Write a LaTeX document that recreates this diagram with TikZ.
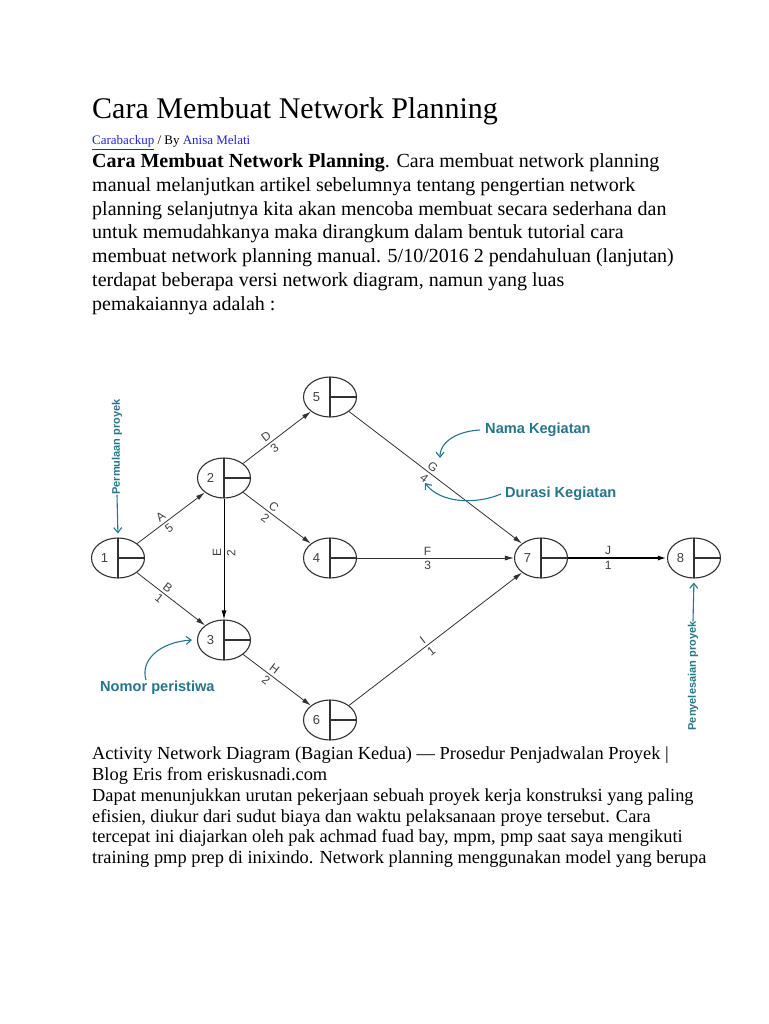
\documentclass[tikz,border=0pt]{standalone}
\usepackage{fontspec}
\setmainfont{Liberation Serif}
\newfontfamily\arialfont{Liberation Sans}
\usetikzlibrary{arrows.meta,shapes.geometric}
\definecolor{annteal}{RGB}{38,118,138}
\definecolor{linkblue}{RGB}{35,35,210}
\definecolor{edgegray}{RGB}{50,50,50}
\definecolor{labgray}{RGB}{65,65,65}
\tikzset{
  body/.style={anchor=base west, inner sep=0pt, font=\fontsize{20}{24}\selectfont, text=black},
  small/.style={anchor=base west, inner sep=0pt, font=\fontsize{18.4}{21}\selectfont, text=black},
  evt/.style={ellipse, draw=edgegray, line width=1.1pt, minimum width=53pt, minimum height=40pt, inner sep=0pt, fill=white,
    path picture={\draw[edgegray, line width=1.1pt] (path picture bounding box.north) -- (path picture bounding box.south);
                  \draw[edgegray, line width=1.1pt] (path picture bounding box.center) -- (path picture bounding box.east);}},
  num/.style={inner sep=0pt, font=\arialfont\fontsize{13}{13}\selectfont, text=labgray},
  edge/.style={draw=edgegray, line width=0.8pt, -{Latex[length=9pt,width=5pt]}},
  lab/.style={inner sep=2.5pt, font=\arialfont\fontsize{12}{12}\selectfont, text=labgray},
  ann/.style={draw=annteal, line width=1.1pt, -{Straight Barb[length=5pt,width=8pt]}},
  anntext/.style={inner sep=0pt, font=\arialfont\bfseries\fontsize{14.6}{15}\selectfont, text=annteal},
  vanntext/.style={inner sep=0pt, font=\arialfont\bfseries\fontsize{11}{12}\selectfont, text=annteal, rotate=90},
}
\begin{document}
\begin{tikzpicture}[x=1pt,y=-1pt]
\useasboundingbox (0,0) rectangle (768,1024);
\fill[white] (0,0) rectangle (768,1024);

% header text
\node[anchor=base west, inner sep=0pt, font=\fontsize{30}{32}\selectfont] (title) at (92,119) {Cara Membuat Network Planning};
\node[anchor=base west, inner sep=0pt, font=\fontsize{13}{15}\selectfont] (byline) at (92,145)
  {\textcolor{linkblue}{\underline{Carabackup}} / By \textcolor{linkblue}{Anisa Melati}};
\node[body] (l1) at (92,168) {\textbf{Cara Membuat Network Planning}. Cara membuat network planning};
\node[body] (l2) at (92,192) {manual melanjutkan artikel sebelumnya tentang pengertian network};
\node[body] (l3) at (92,215) {planning selanjutnya kita akan mencoba membuat secara sederhana dan};
\node[body] (l4) at (92,239) {untuk memudahkanya maka dirangkum dalam bentuk tutorial cara};
\node[body] (l5) at (92,262) {membuat network planning manual. 5/10/2016 2 pendahuluan (lanjutan)};
\node[body] (l6) at (92,286) {terdapat beberapa versi network diagram, namun yang luas};
\node[body] (l7) at (92,310) {pemakaiannya adalah :};

% footer text
\node[small] (f1) at (92,759) {Activity Network Diagram (Bagian Kedua) — Prosedur Penjadwalan Proyek |};
\node[small] (f2) at (92,780) {Blog Eris from eriskusnadi.com};
\node[small] (f3) at (92,801) {Dapat menunjukkan urutan pekerjaan sebuah proyek kerja konstruksi yang paling};
\node[small] (f4) at (92,822) {efisien, diukur dari sudut biaya dan waktu pelaksanaan proye tersebut. Cara};
\node[small] (f5) at (92,842) {tercepat ini diajarkan oleh pak achmad fuad bay, mpm, pmp saat saya mengikuti};
\node[small] (f6) at (92,863) {training pmp prep di inixindo. Network planning menggunakan model yang berupa};

% event nodes
\node[evt] (n1) at (118,558) {};
\node[evt] (n2) at (224,478) {};
\node[evt] (n3) at (224,640) {};
\node[evt] (n4) at (330,558) {};
\node[evt] (n5) at (330,397) {};
\node[evt] (n6) at (330,720) {};
\node[evt] (n7) at (541,558) {};
\node[evt] (n8) at (694,558) {};
\foreach \n in {1,...,8} {\node[num] (t\n) at ([xshift=-13.5pt]n\n.center) {\n};}

% activities
\draw[edge] (n1) -- node[lab, pos=.41, above, rotate=37] {A} node[lab, pos=.41, below, rotate=37] {5} (n2);
\draw[edge] (n2) -- node[lab, pos=.40, above, rotate=37] {D} node[lab, pos=.40, below, rotate=37] {3} (n5);
\draw[edge] (n2) -- node[lab, pos=.39, above, rotate=-37] {C} node[lab, pos=.39, below, rotate=-37] {2} (n4);
\draw[edge] (n1) -- node[lab, pos=.39, above, rotate=-38] {B} node[lab, pos=.39, below, rotate=-38] {1} (n3);
\draw[edge, line width=1pt, draw=black] (n2) -- node[lab, pos=.45, above, rotate=90] {E} node[lab, pos=.45, below, rotate=90] {2} (n3);
\draw[edge] (n3) -- node[lab, pos=.40, above, rotate=-37] {H} node[lab, pos=.40, below, rotate=-37] {2} (n6);
\draw[edge] (n5) -- node[lab, pos=.46, above, rotate=-37.3] {G} node[lab, pos=.46, below, rotate=-37.3] {4} (n7);
\draw[edge] (n4) -- node[lab, pos=.45, above] {F} node[lab, pos=.45, below] {3} (n7);
\draw[edge] (n6) -- node[lab, pos=.45, above, rotate=37.5] {I} node[lab, pos=.45, below, rotate=37.5] {1} (n7);
\draw[edge, line width=1.8pt, draw=black] (n7) -- node[lab, pos=.405, above] {J} node[lab, pos=.405, below] {1} (n8);

% annotations
\node[vanntext] (perm) at (117,447) {Permulaan proyek};
\draw[ann, shorten >=4pt] (perm.west) -- (n1.north);
\node[vanntext] (peny) at (693,676) {Penyelesaian proyek};
\draw[ann, shorten >=4pt] (peny.east) -- (n8.south);
\node[anntext, anchor=west] (nama) at (485,430) {Nama Kegiatan};
\coordinate (gmark) at (440,458);
\draw[ann] ([xshift=-5pt]nama.west) .. controls (460,431) and (440,440) .. (gmark);
\node[anntext, anchor=west] (durasi) at (505,494) {Durasi Kegiatan};
\coordinate (dmark) at (425,483);
\draw[ann] ([xshift=-4pt]durasi.west) .. controls (475,505) and (440,503) .. (dmark);
\node[anntext, anchor=west] (nomor) at (100,688) {Nomor peristiwa};
\coordinate (nstart) at (146,680);
\coordinate (nmark) at (192,640);
\draw[ann] (nstart) .. controls (140,660) and (160,642) .. (nmark);
\end{tikzpicture}
\end{document}
